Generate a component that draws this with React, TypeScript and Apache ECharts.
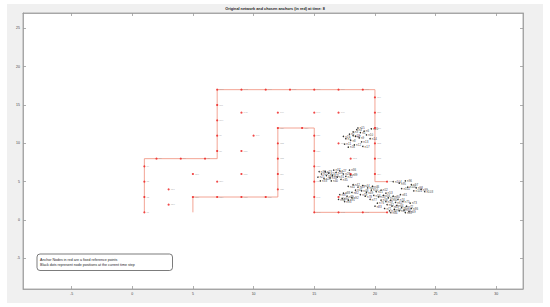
import React, { useEffect, useRef } from "react";
import * as echarts from "echarts";

const TITLE = "Original network and chosen anchors (in red) at time: 8";
const LEGEND_LINES = [
  "Anchor Nodes in red are a fixed reference points",
  "Black dots represent node positions at the current time step",
];
const X_TICKS = [-5, 0, 5, 10, 15, 20, 25, 30];
const Y_TICKS = [-5, 0, 5, 10, 15, 20, 25];

const PATH_A: number[][] = [
  [1, 1], [1, 8], [7, 8], [7, 17], [20, 17], [20, 5], [21, 5],
];
const PATH_B: number[][] = [
  [5, 1], [5, 3], [12, 3], [12, 12], [15, 12], [15, 1], [21, 1],
];

const ANCHORS: number[][] = [
  [1, 1], [1, 3], [1, 5], [1, 7], [2, 8], [4, 8], [6, 8],
  [7, 9], [7, 11], [7, 13], [7, 15], [7, 17],
  [9, 17], [11, 17], [13, 17], [15, 17], [17, 17], [19, 17],
  [20, 16], [20, 14], [20, 12], [20, 10], [20, 8], [20, 6], [21, 5],
  [5, 3], [7, 3], [9, 3], [11, 3], [12, 12], [14, 12],
  [12, 10], [12, 8], [12, 6], [12, 4],
  [15, 11], [15, 9], [15, 7], [15, 5], [15, 3], [15, 1],
  [17, 1], [19, 1], [21, 1],
  [9, 14], [12, 14], [15, 14], [17, 14], [10, 11], [9, 9], [9, 6],
  [17, 10], [18, 8], [18, 6], [17, 3], [5, 6], [3, 4], [3, 2], [7, 5],
];

const NODES_UPPER: number[][] = [
  [17.6, 10.6], [17.9, 11.2], [18.2, 11.5], [18.5, 11.8], [18.8, 11.4],
  [19.1, 11.6], [18.4, 10.9], [18.0, 10.4], [18.7, 10.7], [19.3, 11.1],
  [17.5, 9.9], [18.3, 9.8], [18.9, 10.2], [19.6, 10.6], [18.6, 12.0],
  [17.8, 9.5], [19.0, 9.6], [18.2, 11.0], [17.4, 10.9], [19.7, 11.9],
];
const NODES_MIDDLE: number[][] = [
  [15.3, 5.6], [15.6, 6.0], [15.9, 6.3], [16.2, 6.1], [16.5, 5.8],
  [16.8, 6.2], [17.1, 6.4], [17.4, 6.0], [15.8, 5.4], [16.3, 5.5],
  [16.9, 5.6], [17.6, 5.7], [15.5, 5.1], [16.0, 5.8], [17.2, 5.3],
  [17.9, 6.5], [16.6, 6.5], [15.4, 6.3], [18.0, 5.9], [16.4, 5.1],
];
const NODES_LOWER: number[][] = [
  [17.8, 4.4], [18.2, 4.6], [18.6, 4.3], [19.0, 4.5], [19.4, 4.2],
  [19.8, 4.4], [18.4, 3.9], [18.9, 3.8], [19.3, 3.6], [19.7, 3.9],
  [20.1, 3.7], [20.5, 3.9], [20.9, 3.5], [19.9, 3.2], [20.3, 3.0],
  [20.7, 3.2], [21.1, 2.9], [20.5, 2.6], [20.9, 2.4], [21.3, 2.6],
  [21.7, 2.3], [21.0, 2.0], [21.4, 1.8], [21.8, 1.9], [22.2, 1.6],
  [21.6, 1.4], [22.0, 1.2], [22.4, 1.3], [22.8, 1.1], [21.2, 1.2],
  [20.8, 1.5], [22.6, 1.8], [22.9, 2.2], [21.9, 2.7], [22.3, 2.4],
  [20.2, 2.2], [19.6, 2.7], [19.2, 3.1], [18.8, 3.3], [21.5, 3.1],
  [22.1, 3.3], [18.1, 3.6], [20.0, 1.8], [21.3, 0.95], [22.5, 0.95],
  [23.0, 1.5],
];
const NODES_SMALL: number[][] = [
  [17.1, 3.3], [17.4, 3.5], [17.7, 3.1], [17.3, 2.8], [17.8, 2.6],
  [18.1, 2.9], [17.5, 2.4], [17.0, 2.7],
];
const NODES_SCATTER: number[][] = [
  [22.0, 4.8], [22.5, 5.1], [23.0, 4.6], [23.4, 4.2], [23.8, 4.0],
  [22.7, 4.3], [23.2, 3.8], [22.2, 4.1], [24.1, 3.7], [21.5, 5.0],
];

const FONT = "'Liberation Sans', Arial, sans-serif";

export default function App() {
  const ref = useRef<HTMLDivElement>(null);
  useEffect(() => {
    if (!ref.current) return;
    const chart = echarts.init(ref.current, null, { renderer: "svg" });
    const nodes = [
      ...NODES_UPPER, ...NODES_MIDDLE, ...NODES_LOWER, ...NODES_SMALL, ...NODES_SCATTER,
    ];
    const axisCommon = {
      type: "value" as const,
      splitLine: { show: false },
      axisLine: { show: true, onZero: false, lineStyle: { color: "#9a9a9a", width: 0.8 } },
    };
    chart.setOption({
      animation: false,
      backgroundColor: "#f0f0f0",
      textStyle: { fontFamily: FONT },
      grid: {
        left: 16, top: 9, width: 500, height: 276,
        show: true, backgroundColor: "#ffffff", borderColor: "#9a9a9a", borderWidth: 0.8,
      },
      xAxis: [
        {
          ...axisCommon, min: -9, max: 32.2, position: "bottom",
          axisTick: { show: true, inside: true, length: 3, customValues: X_TICKS, lineStyle: { color: "#9a9a9a", width: 0.8 } },
          axisLabel: { customValues: X_TICKS, fontSize: 3.5, color: "#444", margin: 3, fontFamily: FONT },
        },
        {
          ...axisCommon, min: -9, max: 32.2, position: "top",
          axisTick: { show: true, inside: true, length: 3, customValues: X_TICKS, lineStyle: { color: "#9a9a9a", width: 0.8 } },
          axisLabel: { show: false },
        },
      ],
      yAxis: [
        {
          ...axisCommon, min: -9, max: 27, position: "left",
          axisTick: { show: true, inside: true, length: 3, customValues: Y_TICKS, lineStyle: { color: "#9a9a9a", width: 0.8 } },
          axisLabel: { customValues: Y_TICKS, fontSize: 3.5, color: "#444", margin: 3, fontFamily: FONT },
        },
        {
          ...axisCommon, min: -9, max: 27, position: "right",
          axisTick: { show: true, inside: true, length: 3, customValues: Y_TICKS, lineStyle: { color: "#9a9a9a", width: 0.8 } },
          axisLabel: { show: false },
        },
      ],
      series: [
        {
          type: "line", data: PATH_A, symbol: "none",
          lineStyle: { color: "#f29a88", width: 0.9 }, z: 2,
        },
        {
          type: "line", data: PATH_B, symbol: "none",
          lineStyle: { color: "#f29a88", width: 0.9 }, z: 2,
        },
        {
          type: "scatter", data: nodes, symbol: "circle", symbolSize: 1.5,
          itemStyle: { color: "#000" }, z: 3,
          label: {
            show: true, position: "right", distance: 1, fontSize: 3, color: "#000",
            fontFamily: FONT, formatter: (p: any) => "n" + (p.dataIndex + 1),
          },
        },
        {
          type: "scatter", data: ANCHORS, symbol: "circle", symbolSize: 2.2,
          itemStyle: { color: "#ee1c1c" }, z: 4,
          label: {
            show: true, position: "right", distance: 1, fontSize: 2.4, color: "#999",
            fontFamily: FONT, formatter: (p: any) => "a" + (p.dataIndex + 1),
          },
        },
      ],
      graphic: [
        {
          type: "text", left: "center", top: 2.5,
          style: { text: TITLE, fontSize: 3.8, fill: "#222", fontFamily: FONT, fontWeight: "bold" },
        },
        {
          type: "rect", shape: { x: 30, y: 250, width: 135.5, height: 16.5, r: 3 },
          style: { fill: "#ffffff", stroke: "#444", lineWidth: 0.7 }, z: 10,
        },
        {
          type: "text", x: 33, y: 255.5, z: 11,
          style: { text: LEGEND_LINES[0], fontSize: 3.6, fill: "#222", fontFamily: FONT, verticalAlign: "middle" },
        },
        {
          type: "text", x: 33, y: 261, z: 11,
          style: { text: LEGEND_LINES[1], fontSize: 3.6, fill: "#222", fontFamily: FONT, verticalAlign: "middle" },
        },
      ],
    });
    return () => chart.dispose();
  }, []);
  return (
    <div style={{ position: "fixed", left: 0, top: 0, width: 550, height: 307, background: "#fff" }}>
      <div ref={ref} style={{ position: "absolute", left: 7, top: 4, width: 536, height: 299 }} />
    </div>
  );
}
